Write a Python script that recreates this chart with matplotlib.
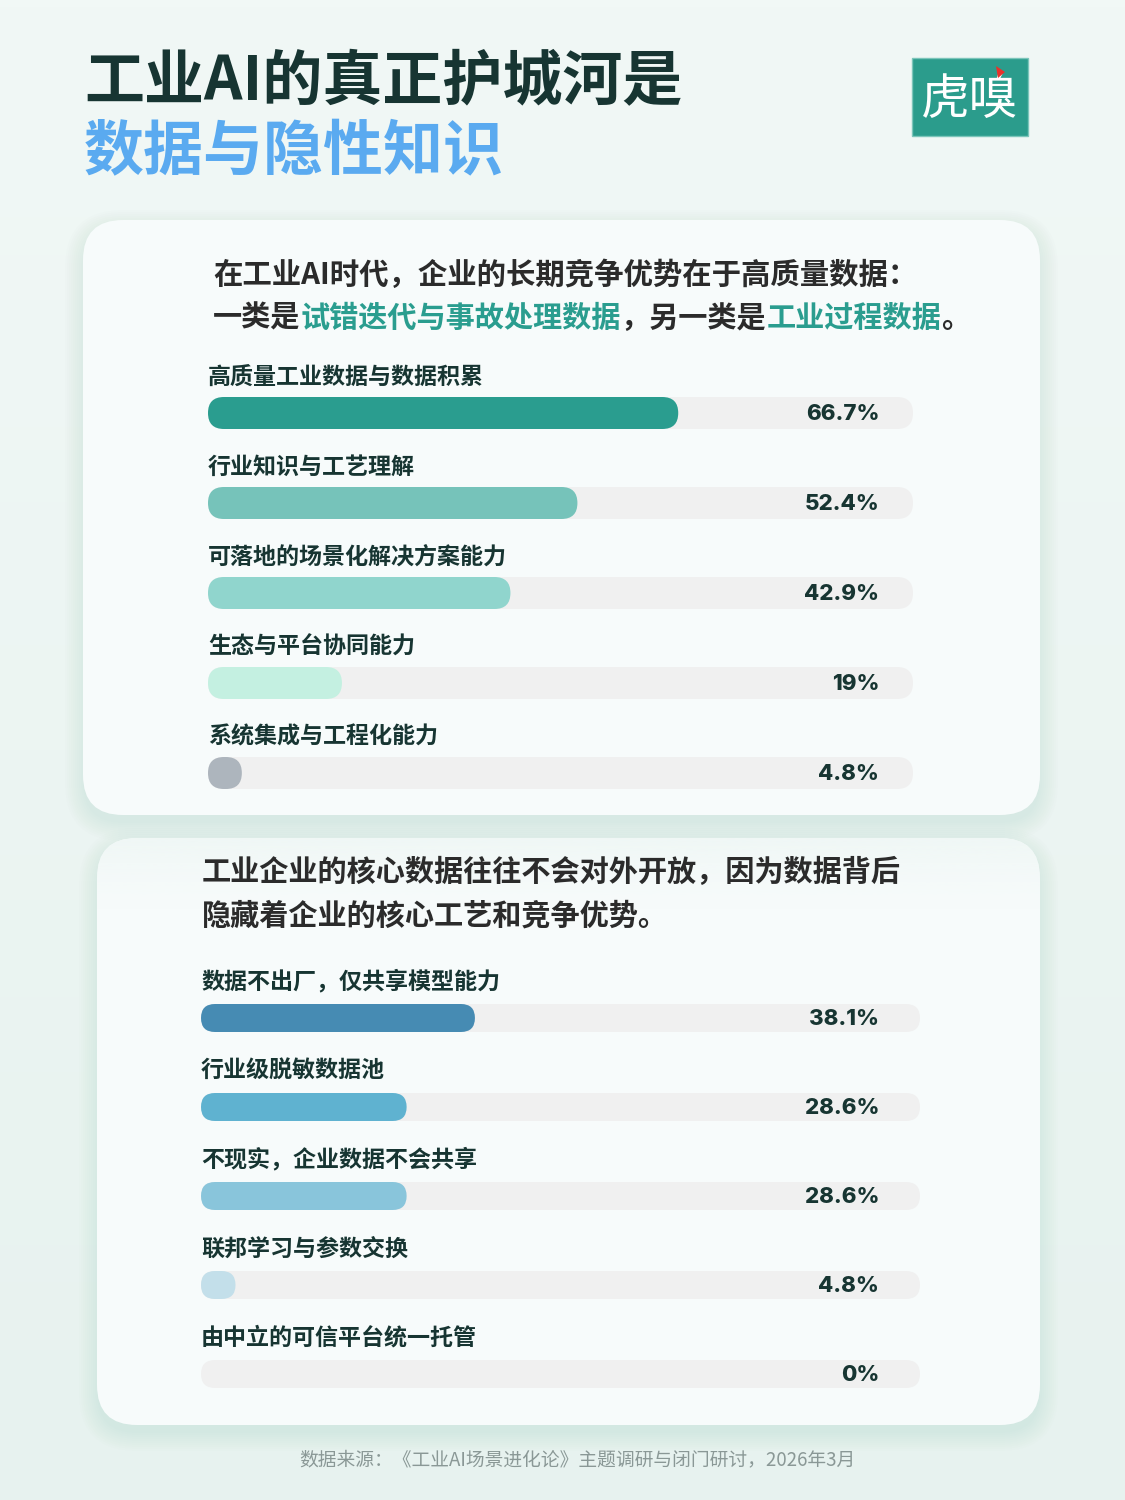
import numpy as np
import matplotlib.pyplot as plt
from matplotlib.patches import FancyBboxPatch, Rectangle, Polygon
from matplotlib.colors import to_rgb

plt.rcParams['font.family'] = ['Noto Sans CJK SC', 'DejaVu Sans']

# ---- data ----
title_1 = "工业AI的真正护城河是"
title_2 = "数据与隐性知识"

moat_labels = ["高质量工业数据与数据积累", "行业知识与工艺理解", "可落地的场景化解决方案能力",
               "生态与平台协同能力", "系统集成与工程化能力"]
moat_values = [66.7, 52.4, 42.9, 19, 4.8]
moat_colors = ["#2a9d8f", "#76c3ba", "#90d5cd", "#c4f0e1", "#adb5bd"]

share_labels = ["数据不出厂，仅共享模型能力", "行业级脱敏数据池", "不现实，企业数据不会共享",
                "联邦学习与参数交换", "由中立的可信平台统一托管"]
share_values = [38.1, 28.6, 28.6, 4.8, 0]
share_colors = ["#468bb3", "#5fb2d0", "#89c5db", "#c3dfea", "#c3dfea"]

source = "数据来源：《工业AI场景进化论》主题调研与闭门研讨，2026年3月"

DARK = "#173532"
TEAL = "#2a9d8f"
TRACK = "#f0f0f0"

W, H = 1125, 1500
fig = plt.figure(figsize=(W / 100, H / 100), dpi=100)
bg = fig.add_axes([0, 0, 1, 1])
bg.set_xlim(0, W)
bg.set_ylim(H, 0)
bg.axis('off')

# background gradient
top, bot = np.array(to_rgb("#f1f8f6")), np.array(to_rgb("#e7f2ef"))
t = np.linspace(0, 1, 200)[:, None, None]
bg.imshow(top * (1 - t) + bot * t, extent=[0, W, H, 0], aspect='auto', zorder=0)


def card(x0, y0, x1, y1, r=40, shadow=True):
    if shadow:
        for k in range(10):
            s = FancyBboxPatch((x0 - k * 2, y0 - k * 2 + 8), x1 - x0 + k * 4, y1 - y0 + k * 4,
                               boxstyle=f"round,pad=0,rounding_size={r + k * 2}",
                               fc="#6f9e95", ec='none', alpha=0.012, zorder=1)
            bg.add_patch(s)
    c = FancyBboxPatch((x0, y0), x1 - x0, y1 - y0, boxstyle=f"round,pad=0,rounding_size={r}",
                       fc="#f7fbfb", ec='none', zorder=2)
    bg.add_patch(c)
    return c


card(83, 220, 1040, 815)
c2 = card(97, 838, 1040, 1425)
# soft fade over the top of the second card
fade = np.zeros((100, 1, 4))
fade[..., :3] = to_rgb("#eff7f5")
fade[:, 0, 3] = 0.9 * np.linspace(1, 0, 100) ** 1.3
im = bg.imshow(fade, extent=[90, 1050, 910, 836], aspect='auto', zorder=3)
im.set_clip_path(c2)

# title
bg.text(84, 82, title_1, fontsize=43.2, fontweight='black', color=DARK, va='center', ha='left')
bg.text(84, 153, title_2, fontsize=43.2, fontweight='black', color="#5aaaf0", va='center', ha='left')

# logo
bg.add_patch(Rectangle((912, 58), 116, 78, fc="#2b9c8c", ec="#7cc5ba", lw=1, zorder=4))
bg.text(970, 100, "虎嗅", fontsize=35, fontweight='light', color='white', ha='center', va='center', zorder=5)
bg.add_patch(Polygon([[996, 66], [1005, 72], [998, 78]], closed=True, fc="#e8322b", ec='none', zorder=6))


def rich_line(x, y, parts, size):
    tx = bg.text(x, y, parts[0][0], fontsize=size, color=parts[0][1], va='center', ha='left',
                 fontweight='bold', zorder=6)
    for seg, col in parts[1:]:
        tx = bg.annotate(seg, xy=(1, 0), xycoords=tx, va='bottom', ha='left', fontsize=size,
                         color=col, fontweight='bold', zorder=6)


rich_line(213, 275, [("在工业AI时代，企业的长期竞争优势在于高质量数据：", "#2b2b2b")], 21.2)
rich_line(213, 318, [("一类是", "#2b2b2b"), ("试错迭代与事故处理数据", TEAL), ("，另一类是", "#2b2b2b"),
                     ("工业过程数据", TEAL), ("。", "#2b2b2b")], 21.0)
rich_line(202, 872, [("工业企业的核心数据往往不会对外开放，因为数据背后", "#2b2b2b")], 21)
rich_line(202, 915, [("隐藏着企业的核心工艺和竞争优势。", "#2b2b2b")], 21)


def bar_panel(xl, xr, y_first, gap, h, labels, values, colors, pct_x):
    axw = xr - xl
    ax = fig.add_axes([xl / W, 0, axw / W, 1])
    ax.set_xlim(0, 100)
    ax.set_ylim(H, 0)
    ax.axis('off')
    ax.patch.set_alpha(0)
    r = (h / 2) * 100 / axw
    for i, (lab, v, col) in enumerate(zip(labels, values, colors)):
        y = y_first + i * gap
        ax.add_patch(FancyBboxPatch((0, y - h / 2), 100, h, boxstyle=f"round,pad=0,rounding_size={r}",
                                    mutation_aspect=axw / 100, fc=TRACK, ec='none', zorder=5))
        if v > 0:
            ax.add_patch(FancyBboxPatch((0, y - h / 2), v, h, boxstyle=f"round,pad=0,rounding_size={r}",
                                        mutation_aspect=axw / 100, fc=col, ec='none', zorder=6))
        ax.text(0, y - 36, lab, fontsize=16.6, fontweight='bold', color=DARK, ha='left', va='center', zorder=7)
        ax.text(pct_x, y + 1, f"{v:g}%", fontsize=16, fontweight='heavy', color=DARK,
                family=['Inter', 'DejaVu Sans'], ha='right', va='center', zorder=7)


bar_panel(208, 913, 413, 90, 32, moat_labels, moat_values, moat_colors, 95.2)
bar_panel(201, 920, 1018, 89, 28, share_labels, share_values, share_colors, 94.3)

bg.text(577, 1460, source, fontsize=13.5, fontweight='medium', color="#8a9896", ha='center', va='center', zorder=6)

fig.savefig("out.png", dpi=100)
